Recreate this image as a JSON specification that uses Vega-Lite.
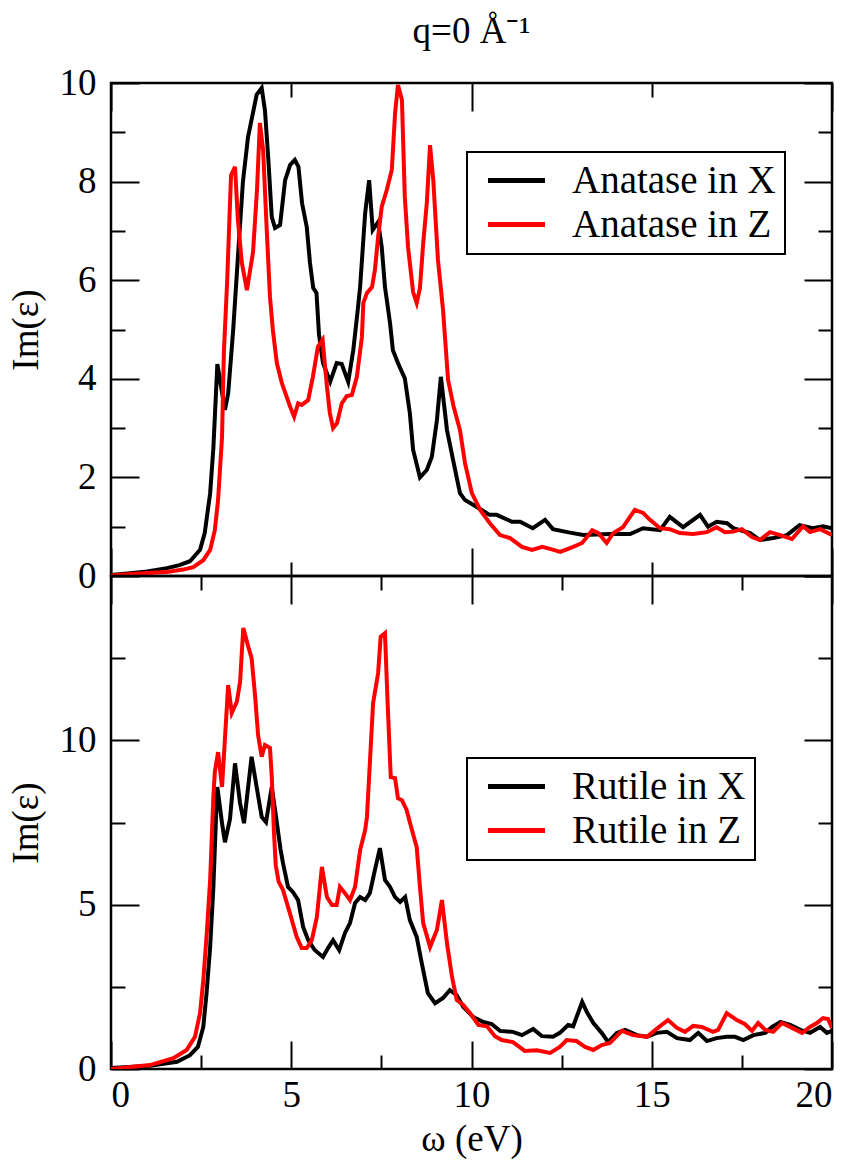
{
  "$schema": "https://vega.github.io/schema/vega-lite/v6.json",
  "autosize": {"type": "pad"},
  "padding": {"left": 5, "top": 12, "right": 5, "bottom": 5},
  "background": "white",
  "title": {"text": "q=0 Å⁻¹", "font": "Liberation Serif", "fontSize": 37, "fontWeight": "normal", "color": "black", "anchor": "middle", "frame": "group", "offset": 12},
  "datasets": {
    "top": [
      {"s":"Anatase in X","x":0,"y":0.02},{"s":"Anatase in X","x":0.6,"y":0.06},{"s":"Anatase in X","x":1.0,"y":0.09},{"s":"Anatase in X","x":1.55,"y":0.16},{"s":"Anatase in X","x":1.9,"y":0.22},{"s":"Anatase in X","x":2.19,"y":0.3},{"s":"Anatase in X","x":2.47,"y":0.53},{"s":"Anatase in X","x":2.6,"y":0.87},{"s":"Anatase in X","x":2.75,"y":1.68},{"s":"Anatase in X","x":2.84,"y":2.6},{"s":"Anatase in X","x":2.95,"y":4.3},{"s":"Anatase in X","x":3.16,"y":3.37},{"s":"Anatase in X","x":3.25,"y":3.7},{"s":"Anatase in X","x":3.39,"y":5.0},{"s":"Anatase in X","x":3.55,"y":6.8},{"s":"Anatase in X","x":3.66,"y":8.0},{"s":"Anatase in X","x":3.8,"y":8.9},{"s":"Anatase in X","x":4.04,"y":9.76},{"s":"Anatase in X","x":4.18,"y":9.9},{"s":"Anatase in X","x":4.27,"y":9.45},{"s":"Anatase in X","x":4.36,"y":8.5},{"s":"Anatase in X","x":4.46,"y":7.28},{"s":"Anatase in X","x":4.55,"y":7.06},{"s":"Anatase in X","x":4.69,"y":7.12},{"s":"Anatase in X","x":4.83,"y":8.03},{"s":"Anatase in X","x":4.97,"y":8.34},{"s":"Anatase in X","x":5.1,"y":8.44},{"s":"Anatase in X","x":5.2,"y":8.3},{"s":"Anatase in X","x":5.3,"y":7.56},{"s":"Anatase in X","x":5.43,"y":7.08},{"s":"Anatase in X","x":5.52,"y":6.35},{"s":"Anatase in X","x":5.61,"y":5.84},{"s":"Anatase in X","x":5.7,"y":5.74},{"s":"Anatase in X","x":5.77,"y":4.9},{"s":"Anatase in X","x":5.88,"y":4.32},{"s":"Anatase in X","x":6.08,"y":3.94},{"s":"Anatase in X","x":6.26,"y":4.32},{"s":"Anatase in X","x":6.4,"y":4.3},{"s":"Anatase in X","x":6.58,"y":3.94},{"s":"Anatase in X","x":6.72,"y":4.58},{"s":"Anatase in X","x":6.83,"y":5.3},{"s":"Anatase in X","x":6.91,"y":5.86},{"s":"Anatase in X","x":7.05,"y":7.36},{"s":"Anatase in X","x":7.16,"y":8.03},{"s":"Anatase in X","x":7.26,"y":7.02},{"s":"Anatase in X","x":7.41,"y":7.18},{"s":"Anatase in X","x":7.51,"y":6.67},{"s":"Anatase in X","x":7.6,"y":5.86},{"s":"Anatase in X","x":7.74,"y":5.13},{"s":"Anatase in X","x":7.82,"y":4.58},{"s":"Anatase in X","x":7.96,"y":4.32},{"s":"Anatase in X","x":8.15,"y":4.01},{"s":"Anatase in X","x":8.29,"y":3.3},{"s":"Anatase in X","x":8.38,"y":2.56},{"s":"Anatase in X","x":8.57,"y":2.0},{"s":"Anatase in X","x":8.76,"y":2.15},{"s":"Anatase in X","x":8.9,"y":2.42},{"s":"Anatase in X","x":9.04,"y":3.16},{"s":"Anatase in X","x":9.15,"y":4.04},{"s":"Anatase in X","x":9.32,"y":2.96},{"s":"Anatase in X","x":9.49,"y":2.35},{"s":"Anatase in X","x":9.68,"y":1.68},{"s":"Anatase in X","x":9.82,"y":1.54},{"s":"Anatase in X","x":10.15,"y":1.4},{"s":"Anatase in X","x":10.5,"y":1.24},{"s":"Anatase in X","x":10.7,"y":1.24},{"s":"Anatase in X","x":11.12,"y":1.1},{"s":"Anatase in X","x":11.35,"y":1.1},{"s":"Anatase in X","x":11.7,"y":0.97},{"s":"Anatase in X","x":12.04,"y":1.14},{"s":"Anatase in X","x":12.26,"y":0.95},{"s":"Anatase in X","x":12.73,"y":0.88},{"s":"Anatase in X","x":13.1,"y":0.83},{"s":"Anatase in X","x":13.84,"y":0.85},{"s":"Anatase in X","x":14.4,"y":0.85},{"s":"Anatase in X","x":14.76,"y":0.97},{"s":"Anatase in X","x":15.23,"y":0.93},{"s":"Anatase in X","x":15.5,"y":1.2},{"s":"Anatase in X","x":15.87,"y":0.99},{"s":"Anatase in X","x":16.34,"y":1.24},{"s":"Anatase in X","x":16.56,"y":1.0},{"s":"Anatase in X","x":16.8,"y":1.1},{"s":"Anatase in X","x":17.09,"y":1.07},{"s":"Anatase in X","x":17.26,"y":0.97},{"s":"Anatase in X","x":17.73,"y":0.87},{"s":"Anatase in X","x":18.0,"y":0.73},{"s":"Anatase in X","x":18.37,"y":0.77},{"s":"Anatase in X","x":18.75,"y":0.83},{"s":"Anatase in X","x":19.1,"y":1.03},{"s":"Anatase in X","x":19.47,"y":0.97},{"s":"Anatase in X","x":19.75,"y":1.01},{"s":"Anatase in X","x":20,"y":0.97},
      {"s":"Anatase in Z","x":0,"y":0.01},{"s":"Anatase in Z","x":0.6,"y":0.04},{"s":"Anatase in Z","x":1.0,"y":0.06},{"s":"Anatase in Z","x":1.55,"y":0.08},{"s":"Anatase in Z","x":2.0,"y":0.13},{"s":"Anatase in Z","x":2.28,"y":0.18},{"s":"Anatase in Z","x":2.56,"y":0.32},{"s":"Anatase in Z","x":2.75,"y":0.53},{"s":"Anatase in Z","x":2.88,"y":0.93},{"s":"Anatase in Z","x":2.97,"y":1.54},{"s":"Anatase in Z","x":3.08,"y":2.82},{"s":"Anatase in Z","x":3.13,"y":4.52},{"s":"Anatase in Z","x":3.22,"y":5.94},{"s":"Anatase in Z","x":3.33,"y":8.13},{"s":"Anatase in Z","x":3.44,"y":8.3},{"s":"Anatase in Z","x":3.52,"y":7.22},{"s":"Anatase in Z","x":3.63,"y":6.35},{"s":"Anatase in Z","x":3.77,"y":5.8},{"s":"Anatase in Z","x":3.94,"y":6.57},{"s":"Anatase in Z","x":4.05,"y":7.83},{"s":"Anatase in Z","x":4.13,"y":9.19},{"s":"Anatase in Z","x":4.22,"y":8.64},{"s":"Anatase in Z","x":4.32,"y":7.02},{"s":"Anatase in Z","x":4.41,"y":5.66},{"s":"Anatase in Z","x":4.49,"y":4.99},{"s":"Anatase in Z","x":4.6,"y":4.32},{"s":"Anatase in Z","x":4.74,"y":3.91},{"s":"Anatase in Z","x":4.97,"y":3.43},{"s":"Anatase in Z","x":5.08,"y":3.23},{"s":"Anatase in Z","x":5.19,"y":3.5},{"s":"Anatase in Z","x":5.29,"y":3.47},{"s":"Anatase in Z","x":5.47,"y":3.57},{"s":"Anatase in Z","x":5.6,"y":4.04},{"s":"Anatase in Z","x":5.74,"y":4.65},{"s":"Anatase in Z","x":5.87,"y":4.79},{"s":"Anatase in Z","x":5.99,"y":3.84},{"s":"Anatase in Z","x":6.07,"y":3.31},{"s":"Anatase in Z","x":6.16,"y":3.0},{"s":"Anatase in Z","x":6.27,"y":3.1},{"s":"Anatase in Z","x":6.4,"y":3.5},{"s":"Anatase in Z","x":6.54,"y":3.65},{"s":"Anatase in Z","x":6.68,"y":3.67},{"s":"Anatase in Z","x":6.82,"y":4.04},{"s":"Anatase in Z","x":6.96,"y":4.85},{"s":"Anatase in Z","x":7.0,"y":5.54},{"s":"Anatase in Z","x":7.1,"y":5.74},{"s":"Anatase in Z","x":7.24,"y":5.86},{"s":"Anatase in Z","x":7.32,"y":6.2},{"s":"Anatase in Z","x":7.41,"y":6.88},{"s":"Anatase in Z","x":7.51,"y":7.49},{"s":"Anatase in Z","x":7.65,"y":7.83},{"s":"Anatase in Z","x":7.79,"y":8.24},{"s":"Anatase in Z","x":7.88,"y":9.39},{"s":"Anatase in Z","x":7.96,"y":9.96},{"s":"Anatase in Z","x":8.07,"y":9.66},{"s":"Anatase in Z","x":8.15,"y":7.69},{"s":"Anatase in Z","x":8.24,"y":6.67},{"s":"Anatase in Z","x":8.38,"y":5.76},{"s":"Anatase in Z","x":8.48,"y":5.54},{"s":"Anatase in Z","x":8.57,"y":5.84},{"s":"Anatase in Z","x":8.66,"y":6.75},{"s":"Anatase in Z","x":8.76,"y":7.56},{"s":"Anatase in Z","x":8.85,"y":8.74},{"s":"Anatase in Z","x":8.94,"y":8.03},{"s":"Anatase in Z","x":9.07,"y":6.41},{"s":"Anatase in Z","x":9.21,"y":5.4},{"s":"Anatase in Z","x":9.35,"y":3.98},{"s":"Anatase in Z","x":9.5,"y":3.45},{"s":"Anatase in Z","x":9.68,"y":2.96},{"s":"Anatase in Z","x":9.82,"y":2.29},{"s":"Anatase in Z","x":10.01,"y":1.68},{"s":"Anatase in Z","x":10.24,"y":1.34},{"s":"Anatase in Z","x":10.51,"y":1.07},{"s":"Anatase in Z","x":10.79,"y":0.83},{"s":"Anatase in Z","x":11.07,"y":0.77},{"s":"Anatase in Z","x":11.4,"y":0.59},{"s":"Anatase in Z","x":11.68,"y":0.53},{"s":"Anatase in Z","x":11.96,"y":0.59},{"s":"Anatase in Z","x":12.18,"y":0.55},{"s":"Anatase in Z","x":12.46,"y":0.49},{"s":"Anatase in Z","x":12.82,"y":0.59},{"s":"Anatase in Z","x":13.07,"y":0.67},{"s":"Anatase in Z","x":13.35,"y":0.93},{"s":"Anatase in Z","x":13.52,"y":0.87},{"s":"Anatase in Z","x":13.75,"y":0.67},{"s":"Anatase in Z","x":13.93,"y":0.87},{"s":"Anatase in Z","x":14.2,"y":0.99},{"s":"Anatase in Z","x":14.34,"y":1.14},{"s":"Anatase in Z","x":14.53,"y":1.34},{"s":"Anatase in Z","x":14.76,"y":1.28},{"s":"Anatase in Z","x":14.95,"y":1.14},{"s":"Anatase in Z","x":15.23,"y":0.97},{"s":"Anatase in Z","x":15.5,"y":0.95},{"s":"Anatase in Z","x":15.78,"y":0.87},{"s":"Anatase in Z","x":16.15,"y":0.85},{"s":"Anatase in Z","x":16.53,"y":0.89},{"s":"Anatase in Z","x":16.8,"y":0.99},{"s":"Anatase in Z","x":17.03,"y":0.89},{"s":"Anatase in Z","x":17.26,"y":0.9},{"s":"Anatase in Z","x":17.5,"y":0.95},{"s":"Anatase in Z","x":17.78,"y":0.79},{"s":"Anatase in Z","x":18.0,"y":0.73},{"s":"Anatase in Z","x":18.28,"y":0.89},{"s":"Anatase in Z","x":18.56,"y":0.83},{"s":"Anatase in Z","x":18.89,"y":0.75},{"s":"Anatase in Z","x":19.2,"y":1.01},{"s":"Anatase in Z","x":19.39,"y":0.89},{"s":"Anatase in Z","x":19.67,"y":0.95},{"s":"Anatase in Z","x":20,"y":0.83}
    ],
    "bot": [
      {"s":"Rutile in X","x":0,"y":0.03},{"s":"Rutile in X","x":1.08,"y":0.1},{"s":"Rutile in X","x":1.83,"y":0.22},{"s":"Rutile in X","x":2.19,"y":0.42},{"s":"Rutile in X","x":2.41,"y":0.67},{"s":"Rutile in X","x":2.56,"y":1.28},{"s":"Rutile in X","x":2.65,"y":2.3},{"s":"Rutile in X","x":2.75,"y":3.71},{"s":"Rutile in X","x":2.84,"y":5.54},{"s":"Rutile in X","x":2.91,"y":7.58},{"s":"Rutile in X","x":2.95,"y":8.58},{"s":"Rutile in X","x":3.08,"y":7.48},{"s":"Rutile in X","x":3.16,"y":6.9},{"s":"Rutile in X","x":3.3,"y":7.6},{"s":"Rutile in X","x":3.44,"y":9.3},{"s":"Rutile in X","x":3.58,"y":8.09},{"s":"Rutile in X","x":3.69,"y":7.48},{"s":"Rutile in X","x":3.9,"y":9.5},{"s":"Rutile in X","x":4.04,"y":8.58},{"s":"Rutile in X","x":4.18,"y":7.67},{"s":"Rutile in X","x":4.3,"y":7.51},{"s":"Rutile in X","x":4.46,"y":8.58},{"s":"Rutile in X","x":4.6,"y":7.5},{"s":"Rutile in X","x":4.7,"y":6.7},{"s":"Rutile in X","x":4.77,"y":6.27},{"s":"Rutile in X","x":4.91,"y":5.54},{"s":"Rutile in X","x":5.05,"y":5.38},{"s":"Rutile in X","x":5.19,"y":5.14},{"s":"Rutile in X","x":5.33,"y":4.32},{"s":"Rutile in X","x":5.47,"y":3.92},{"s":"Rutile in X","x":5.65,"y":3.62},{"s":"Rutile in X","x":5.88,"y":3.41},{"s":"Rutile in X","x":6.02,"y":3.68},{"s":"Rutile in X","x":6.16,"y":3.92},{"s":"Rutile in X","x":6.33,"y":3.62},{"s":"Rutile in X","x":6.49,"y":4.14},{"s":"Rutile in X","x":6.63,"y":4.44},{"s":"Rutile in X","x":6.77,"y":5.05},{"s":"Rutile in X","x":6.91,"y":5.23},{"s":"Rutile in X","x":7.05,"y":5.14},{"s":"Rutile in X","x":7.18,"y":5.35},{"s":"Rutile in X","x":7.32,"y":6.05},{"s":"Rutile in X","x":7.46,"y":6.72},{"s":"Rutile in X","x":7.6,"y":5.75},{"s":"Rutile in X","x":7.74,"y":5.54},{"s":"Rutile in X","x":7.88,"y":5.23},{"s":"Rutile in X","x":8.02,"y":5.08},{"s":"Rutile in X","x":8.16,"y":5.23},{"s":"Rutile in X","x":8.29,"y":4.53},{"s":"Rutile in X","x":8.48,"y":4.02},{"s":"Rutile in X","x":8.62,"y":3.22},{"s":"Rutile in X","x":8.79,"y":2.31},{"s":"Rutile in X","x":8.99,"y":2.0},{"s":"Rutile in X","x":9.21,"y":2.16},{"s":"Rutile in X","x":9.4,"y":2.4},{"s":"Rutile in X","x":9.59,"y":2.25},{"s":"Rutile in X","x":9.77,"y":1.89},{"s":"Rutile in X","x":10.05,"y":1.58},{"s":"Rutile in X","x":10.33,"y":1.43},{"s":"Rutile in X","x":10.56,"y":1.37},{"s":"Rutile in X","x":10.79,"y":1.16},{"s":"Rutile in X","x":11.15,"y":1.13},{"s":"Rutile in X","x":11.4,"y":1.03},{"s":"Rutile in X","x":11.71,"y":1.22},{"s":"Rutile in X","x":11.95,"y":1.0},{"s":"Rutile in X","x":12.26,"y":0.98},{"s":"Rutile in X","x":12.45,"y":1.1},{"s":"Rutile in X","x":12.68,"y":1.34},{"s":"Rutile in X","x":12.82,"y":1.3},{"s":"Rutile in X","x":13.07,"y":2.04},{"s":"Rutile in X","x":13.2,"y":1.73},{"s":"Rutile in X","x":13.38,"y":1.4},{"s":"Rutile in X","x":13.61,"y":1.1},{"s":"Rutile in X","x":13.79,"y":0.82},{"s":"Rutile in X","x":14.03,"y":1.1},{"s":"Rutile in X","x":14.26,"y":1.19},{"s":"Rutile in X","x":14.59,"y":1.03},{"s":"Rutile in X","x":14.87,"y":0.98},{"s":"Rutile in X","x":15.14,"y":1.1},{"s":"Rutile in X","x":15.42,"y":1.13},{"s":"Rutile in X","x":15.7,"y":0.94},{"s":"Rutile in X","x":16.06,"y":0.88},{"s":"Rutile in X","x":16.29,"y":1.1},{"s":"Rutile in X","x":16.53,"y":0.85},{"s":"Rutile in X","x":16.8,"y":0.94},{"s":"Rutile in X","x":17.08,"y":0.98},{"s":"Rutile in X","x":17.31,"y":0.98},{"s":"Rutile in X","x":17.54,"y":0.88},{"s":"Rutile in X","x":17.82,"y":1.03},{"s":"Rutile in X","x":18.15,"y":1.1},{"s":"Rutile in X","x":18.34,"y":1.28},{"s":"Rutile in X","x":18.57,"y":1.43},{"s":"Rutile in X","x":18.84,"y":1.34},{"s":"Rutile in X","x":19.12,"y":1.19},{"s":"Rutile in X","x":19.39,"y":1.1},{"s":"Rutile in X","x":19.67,"y":1.28},{"s":"Rutile in X","x":19.86,"y":1.1},{"s":"Rutile in X","x":20,"y":1.16},
      {"s":"Rutile in Z","x":0,"y":0.0},{"s":"Rutile in Z","x":1.08,"y":0.12},{"s":"Rutile in Z","x":1.73,"y":0.33},{"s":"Rutile in Z","x":2.1,"y":0.58},{"s":"Rutile in Z","x":2.33,"y":0.98},{"s":"Rutile in Z","x":2.47,"y":1.7},{"s":"Rutile in Z","x":2.56,"y":2.7},{"s":"Rutile in Z","x":2.65,"y":4.02},{"s":"Rutile in Z","x":2.75,"y":5.75},{"s":"Rutile in Z","x":2.84,"y":8.3},{"s":"Rutile in Z","x":2.88,"y":9.04},{"s":"Rutile in Z","x":2.97,"y":9.64},{"s":"Rutile in Z","x":3.08,"y":8.58},{"s":"Rutile in Z","x":3.25,"y":11.68},{"s":"Rutile in Z","x":3.35,"y":10.83},{"s":"Rutile in Z","x":3.49,"y":11.17},{"s":"Rutile in Z","x":3.58,"y":11.77},{"s":"Rutile in Z","x":3.67,"y":13.42},{"s":"Rutile in Z","x":3.81,"y":12.84},{"s":"Rutile in Z","x":3.9,"y":12.5},{"s":"Rutile in Z","x":4.0,"y":11.32},{"s":"Rutile in Z","x":4.08,"y":10.16},{"s":"Rutile in Z","x":4.18,"y":9.5},{"s":"Rutile in Z","x":4.27,"y":9.86},{"s":"Rutile in Z","x":4.41,"y":9.77},{"s":"Rutile in Z","x":4.46,"y":8.88},{"s":"Rutile in Z","x":4.52,"y":7.2},{"s":"Rutile in Z","x":4.57,"y":6.2},{"s":"Rutile in Z","x":4.65,"y":5.7},{"s":"Rutile in Z","x":4.77,"y":5.45},{"s":"Rutile in Z","x":4.96,"y":4.75},{"s":"Rutile in Z","x":5.15,"y":4.02},{"s":"Rutile in Z","x":5.29,"y":3.68},{"s":"Rutile in Z","x":5.43,"y":3.68},{"s":"Rutile in Z","x":5.57,"y":3.92},{"s":"Rutile in Z","x":5.71,"y":4.62},{"s":"Rutile in Z","x":5.85,"y":6.15},{"s":"Rutile in Z","x":5.99,"y":5.23},{"s":"Rutile in Z","x":6.13,"y":4.99},{"s":"Rutile in Z","x":6.26,"y":4.99},{"s":"Rutile in Z","x":6.35,"y":5.54},{"s":"Rutile in Z","x":6.49,"y":5.35},{"s":"Rutile in Z","x":6.63,"y":5.14},{"s":"Rutile in Z","x":6.77,"y":5.54},{"s":"Rutile in Z","x":6.91,"y":6.66},{"s":"Rutile in Z","x":7.05,"y":7.27},{"s":"Rutile in Z","x":7.1,"y":7.67},{"s":"Rutile in Z","x":7.18,"y":9.3},{"s":"Rutile in Z","x":7.27,"y":11.13},{"s":"Rutile in Z","x":7.41,"y":12.05},{"s":"Rutile in Z","x":7.48,"y":13.15},{"s":"Rutile in Z","x":7.6,"y":13.26},{"s":"Rutile in Z","x":7.67,"y":11.23},{"s":"Rutile in Z","x":7.76,"y":8.88},{"s":"Rutile in Z","x":7.88,"y":8.85},{"s":"Rutile in Z","x":7.96,"y":8.24},{"s":"Rutile in Z","x":8.07,"y":8.18},{"s":"Rutile in Z","x":8.2,"y":7.88},{"s":"Rutile in Z","x":8.34,"y":7.3},{"s":"Rutile in Z","x":8.48,"y":6.75},{"s":"Rutile in Z","x":8.57,"y":5.54},{"s":"Rutile in Z","x":8.66,"y":4.44},{"s":"Rutile in Z","x":8.85,"y":3.71},{"s":"Rutile in Z","x":9.04,"y":4.23},{"s":"Rutile in Z","x":9.18,"y":5.14},{"s":"Rutile in Z","x":9.32,"y":3.83},{"s":"Rutile in Z","x":9.46,"y":2.8},{"s":"Rutile in Z","x":9.59,"y":2.1},{"s":"Rutile in Z","x":9.77,"y":1.95},{"s":"Rutile in Z","x":9.96,"y":1.7},{"s":"Rutile in Z","x":10.19,"y":1.34},{"s":"Rutile in Z","x":10.43,"y":1.3},{"s":"Rutile in Z","x":10.65,"y":1.0},{"s":"Rutile in Z","x":10.84,"y":0.88},{"s":"Rutile in Z","x":11.15,"y":0.82},{"s":"Rutile in Z","x":11.48,"y":0.55},{"s":"Rutile in Z","x":11.81,"y":0.57},{"s":"Rutile in Z","x":12.18,"y":0.49},{"s":"Rutile in Z","x":12.45,"y":0.67},{"s":"Rutile in Z","x":12.64,"y":0.88},{"s":"Rutile in Z","x":12.91,"y":0.85},{"s":"Rutile in Z","x":13.15,"y":0.67},{"s":"Rutile in Z","x":13.38,"y":0.58},{"s":"Rutile in Z","x":13.61,"y":0.73},{"s":"Rutile in Z","x":13.84,"y":0.79},{"s":"Rutile in Z","x":14.17,"y":1.16},{"s":"Rutile in Z","x":14.48,"y":1.03},{"s":"Rutile in Z","x":14.87,"y":0.98},{"s":"Rutile in Z","x":15.17,"y":1.25},{"s":"Rutile in Z","x":15.45,"y":1.49},{"s":"Rutile in Z","x":15.7,"y":1.25},{"s":"Rutile in Z","x":15.92,"y":1.13},{"s":"Rutile in Z","x":16.15,"y":1.31},{"s":"Rutile in Z","x":16.39,"y":1.28},{"s":"Rutile in Z","x":16.7,"y":1.13},{"s":"Rutile in Z","x":16.84,"y":1.19},{"s":"Rutile in Z","x":17.08,"y":1.7},{"s":"Rutile in Z","x":17.36,"y":1.49},{"s":"Rutile in Z","x":17.58,"y":1.37},{"s":"Rutile in Z","x":17.78,"y":1.16},{"s":"Rutile in Z","x":17.95,"y":1.4},{"s":"Rutile in Z","x":18.15,"y":1.19},{"s":"Rutile in Z","x":18.37,"y":1.13},{"s":"Rutile in Z","x":18.61,"y":1.4},{"s":"Rutile in Z","x":18.89,"y":1.25},{"s":"Rutile in Z","x":19.17,"y":1.1},{"s":"Rutile in Z","x":19.39,"y":1.28},{"s":"Rutile in Z","x":19.58,"y":1.4},{"s":"Rutile in Z","x":19.75,"y":1.55},{"s":"Rutile in Z","x":19.89,"y":1.52},{"s":"Rutile in Z","x":20,"y":1.25}
    ]
  },
  "bounds": "flush",
  "spacing": 0,
  "vconcat": [
    {
      "width": 721, "height": 493,
      "data": {"name": "top"},
      "layer": [
        {
          "mark": {"type": "line", "strokeWidth": 4, "clip": true},
          "encoding": {
            "x": {"field": "x", "type": "quantitative", "scale": {"domain": [0, 20], "nice": false, "zero": false},
                  "axis": {"orient": "bottom", "values": [0, 10, 20], "tickSize": -28, "labels": false, "title": null}},
            "y": {"field": "y", "type": "quantitative", "scale": {"domain": [0, 10], "nice": false},
                  "axis": {"orient": "left", "values": [0, 2, 4, 6, 8, 10], "tickSize": -28, "labelPadding": 43, "labelOverlap": false, "title": "Im(ε)", "titlePadding": 14}},
            "color": {"field": "s", "type": "nominal", "scale": {"domain": ["Anatase in X", "Anatase in Z"], "range": ["#000000", "#ff0000"]},
                      "legend": {"orient": "none", "legendX": 356, "legendY": 69, "title": null}}
          }
        },
        {
          "mark": {"type": "line", "strokeOpacity": 0},
          "encoding": {
            "x": {"field": "x", "type": "quantitative", "scale": {"domain": [0, 20], "nice": false, "zero": false},
                  "axis": {"orient": "bottom", "values": [5, 15], "tickSize": -14, "labels": false, "title": null}},
            "y": {"field": "y", "type": "quantitative", "scale": {"domain": [0, 10], "nice": false},
                  "axis": {"orient": "left", "values": [1, 3, 5, 7, 9], "tickSize": -14, "labels": false, "title": null}},
            "detail": {"field": "s"}
          }
        },
        {
          "mark": {"type": "line", "strokeOpacity": 0},
          "encoding": {
            "x": {"field": "x", "type": "quantitative", "scale": {"domain": [0, 20], "nice": false, "zero": false},
                  "axis": {"orient": "top", "values": [0, 10, 20], "tickSize": -28, "labels": false, "title": null}},
            "y": {"field": "y", "type": "quantitative", "scale": {"domain": [0, 10], "nice": false},
                  "axis": {"orient": "right", "values": [0, 2, 4, 6, 8, 10], "tickSize": -28, "labels": false, "title": null}},
            "detail": {"field": "s"}
          }
        },
        {
          "mark": {"type": "line", "strokeOpacity": 0},
          "encoding": {
            "x": {"field": "x", "type": "quantitative", "scale": {"domain": [0, 20], "nice": false, "zero": false},
                  "axis": {"orient": "top", "values": [5, 15], "tickSize": -14, "labels": false, "title": null}},
            "y": {"field": "y", "type": "quantitative", "scale": {"domain": [0, 10], "nice": false},
                  "axis": {"orient": "right", "values": [1, 3, 5, 7, 9], "tickSize": -14, "labels": false, "title": null}},
            "detail": {"field": "s"}
          }
        }
      ],
      "resolve": {"axis": {"x": "independent", "y": "independent"}}
    },
    {
      "width": 721, "height": 493,
      "data": {"name": "bot"},
      "layer": [
        {
          "mark": {"type": "line", "strokeWidth": 4, "clip": true},
          "encoding": {
            "x": {"field": "x", "type": "quantitative", "scale": {"domain": [0, 20], "nice": false, "zero": false},
                  "axis": {"orient": "bottom", "values": [0, 5, 10, 15, 20], "tickSize": -28, "labelPadding": 36, "labelOverlap": false, "title": "ω (eV)", "titlePadding": 8}},
            "y": {"field": "y", "type": "quantitative", "scale": {"domain": [0, 15], "nice": false},
                  "axis": {"orient": "left", "values": [0, 5, 10], "tickSize": -28, "labelPadding": 43, "labelOverlap": false, "title": "Im(ε)", "titlePadding": 14}},
            "color": {"field": "s", "type": "nominal", "scale": {"domain": ["Rutile in X", "Rutile in Z"], "range": ["#000000", "#ff0000"]},
                      "legend": {"orient": "none", "legendX": 356, "legendY": 182, "title": null}}
          }
        },
        {
          "mark": {"type": "line", "strokeOpacity": 0},
          "encoding": {
            "x": {"field": "x", "type": "quantitative", "scale": {"domain": [0, 20], "nice": false, "zero": false},
                  "axis": {"orient": "bottom", "values": [2.5, 7.5, 12.5, 17.5], "tickSize": -14, "labels": false, "title": null}},
            "y": {"field": "y", "type": "quantitative", "scale": {"domain": [0, 15], "nice": false},
                  "axis": {"orient": "left", "values": [2.5, 7.5, 12.5], "tickSize": -14, "labels": false, "title": null}},
            "detail": {"field": "s"}
          }
        },
        {
          "mark": {"type": "line", "strokeOpacity": 0},
          "encoding": {
            "x": {"field": "x", "type": "quantitative", "scale": {"domain": [0, 20], "nice": false, "zero": false},
                  "axis": {"orient": "top", "values": [0, 5, 10, 15, 20], "tickSize": -28, "labels": false, "title": null}},
            "y": {"field": "y", "type": "quantitative", "scale": {"domain": [0, 15], "nice": false},
                  "axis": {"orient": "right", "values": [0, 5, 10, 15], "tickSize": -28, "labels": false, "title": null}},
            "detail": {"field": "s"}
          }
        },
        {
          "mark": {"type": "line", "strokeOpacity": 0},
          "encoding": {
            "x": {"field": "x", "type": "quantitative", "scale": {"domain": [0, 20], "nice": false, "zero": false},
                  "axis": {"orient": "top", "values": [2.5, 7.5, 12.5, 17.5], "tickSize": -14, "labels": false, "title": null}},
            "y": {"field": "y", "type": "quantitative", "scale": {"domain": [0, 15], "nice": false},
                  "axis": {"orient": "right", "values": [2.5, 7.5, 12.5], "tickSize": -14, "labels": false, "title": null}},
            "detail": {"field": "s"}
          }
        }
      ],
      "resolve": {"axis": {"x": "independent", "y": "independent"}}
    }
  ],
  "resolve": {"scale": {"color": "independent"}, "legend": {"color": "independent"}},
  "config": {
    "view": {"stroke": "#000000", "strokeWidth": 2.5},
    "axis": {"domain": false, "grid": false, "tickColor": "#000000", "tickWidth": 2, "labelFont": "Liberation Serif", "labelFontSize": 37, "labelColor": "#000000", "titleFont": "Liberation Serif", "titleFontSize": 37, "titleFontWeight": "normal", "titleColor": "#000000"},
    "legend": {"labelFont": "Liberation Serif", "labelFontSize": 39, "labelColor": "#000000", "labelLimit": 0, "symbolType": "M-2,0H2", "symbolStrokeWidth": 5, "symbolSize": 812, "symbolOffset": 21, "labelOffset": 36, "rowPadding": 4, "padding": 9, "strokeColor": "#000000", "strokeWidth": 2, "fillColor": "#ffffff"}
  }
}
